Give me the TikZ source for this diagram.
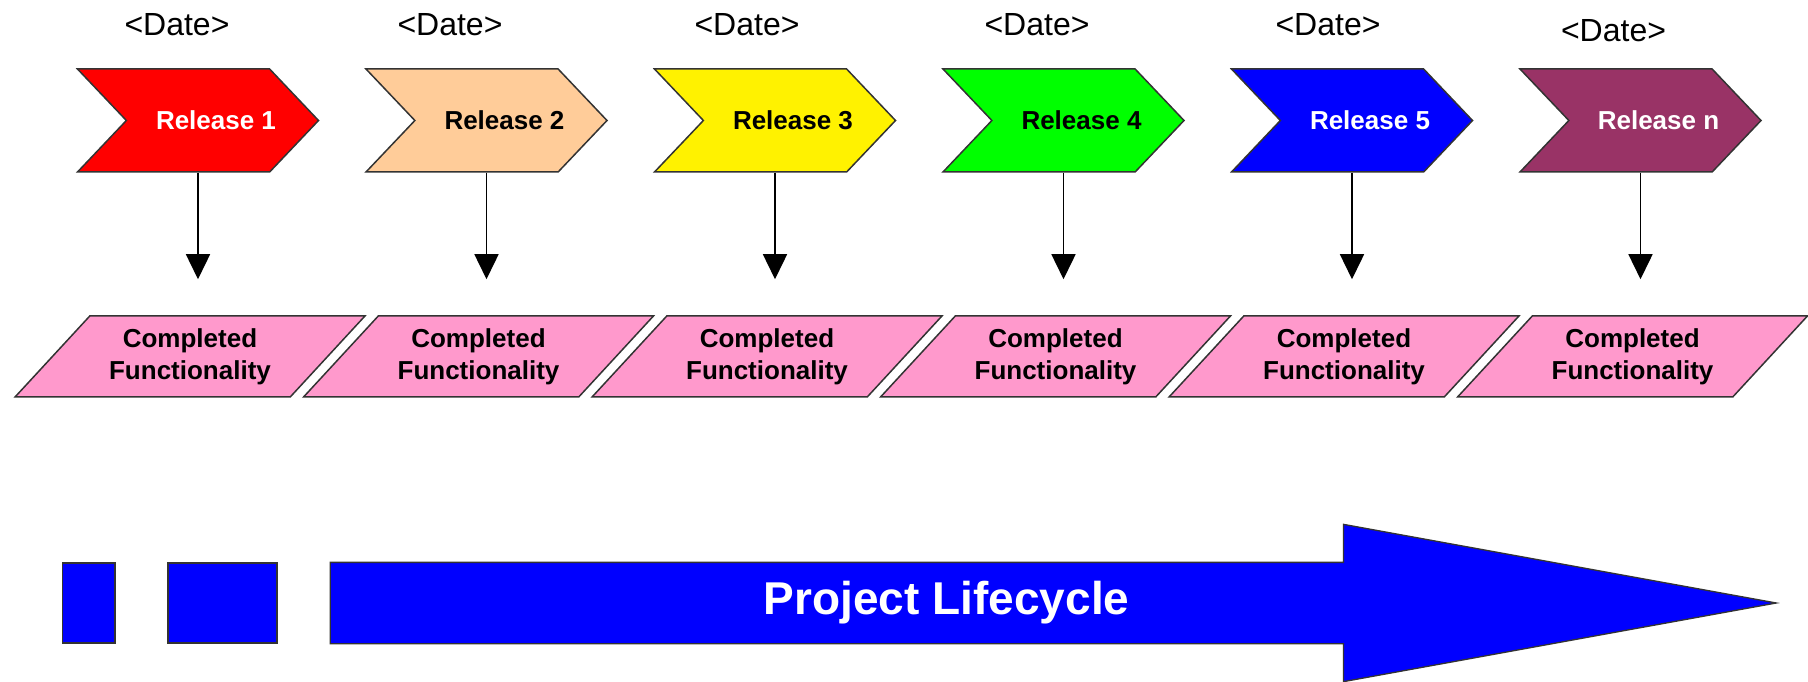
\documentclass[tikz,border=0pt]{standalone}
\usepackage{fontspec}
\setmainfont{Liberation Sans}
\usetikzlibrary{positioning, arrows.meta, shapes.geometric, shapes.symbols, shapes.arrows}

\definecolor{edge}{HTML}{333333}
\definecolor{peach}{HTML}{FFCC99}
\definecolor{plum}{HTML}{993366}
\definecolor{pinkfill}{HTML}{FF99CC}

\tikzset{
    release/.style={draw=edge,
        line width=1.5pt,
        signal,
        signal from=west,
        signal to=east,
        signal pointer angle=93,
        minimum width=241pt,
        minimum height=103pt,
        inner sep=0pt,
        font=\fontsize{26}{32}\selectfont\bfseries},
    done/.style={draw=edge,
        line width=1.5pt,
        fill=pinkfill,
        trapezium,
        trapezium left angle=43,
        trapezium right angle=137,
        trapezium stretches=true,
        minimum width=350pt,
        minimum height=81pt,
        inner sep=0pt,
        align=center,
        font=\fontsize{26}{32}\selectfont\bfseries},
    date/.style={font=\fontsize{32}{36}\selectfont},
    block/.style={draw=edge,
        line width=1.3pt,
        fill=blue,
        minimum height=80pt,
        inner sep=0pt}
}

\begin{document}
\begin{tikzpicture}[x=1pt, y=1pt, on grid,
    >={Triangle[width=24pt, length=25pt]}, line width=1.5pt]
    \useasboundingbox (0,0) rectangle (1808,681);

    % releases
    \node [release, fill=red, text=white] (rel1) at (198,560.5) {\hspace*{18pt}Release 1\hspace*{-18pt}};
    \node [release, fill=peach, right=288.5pt of rel1] (rel2) {\hspace*{18pt}Release 2\hspace*{-18pt}};
    \node [release, fill=yellow, right=288.5pt of rel2] (rel3) {\hspace*{18pt}Release 3\hspace*{-18pt}};
    \node [release, fill=green, right=288.5pt of rel3] (rel4) {\hspace*{18pt}Release 4\hspace*{-18pt}};
    \node [release, fill=blue, text=white, right=288.5pt of rel4] (rel5) {\hspace*{18pt}Release 5\hspace*{-18pt}};
    \node [release, fill=plum, text=white, right=288.5pt of rel5] (reln) {\hspace*{18pt}Release n\hspace*{-18pt}};

    % dates
    \node [date, above=95.5pt of rel1, xshift=-21pt] (date1) {<Date>};
    \node [date, above=95.5pt of rel2, xshift=-36.5pt] (date2) {<Date>};
    \node [date, above=95.5pt of rel3, xshift=-28pt] (date3) {<Date>};
    \node [date, above=95.5pt of rel4, xshift=-26.5pt] (date4) {<Date>};
    \node [date, above=95.5pt of rel5, xshift=-24pt] (date5) {<Date>};
    \node [date, above=89.5pt of reln, xshift=-27pt] (daten) {<Date>};

    % completed functionality
    \node [done, below=236pt of rel1, xshift=-8pt] (cf1) {Completed\\Functionality};
    \node [done, right=288.5pt of cf1] (cf2) {Completed\\Functionality};
    \node [done, right=288.5pt of cf2] (cf3) {Completed\\Functionality};
    \node [done, right=288.5pt of cf3] (cf4) {Completed\\Functionality};
    \node [done, right=288.5pt of cf4] (cf5) {Completed\\Functionality};
    \node [done, right=288.5pt of cf5] (cfn) {Completed\\Functionality};

    \draw [->, shorten >=36pt] (rel1.south) -- (rel1.south |- cf1.north);
    \draw [->, shorten >=36pt] (rel2.south) -- (rel2.south |- cf2.north);
    \draw [->, shorten >=36pt] (rel3.south) -- (rel3.south |- cf3.north);
    \draw [->, shorten >=36pt] (rel4.south) -- (rel4.south |- cf4.north);
    \draw [->, shorten >=36pt] (rel5.south) -- (rel5.south |- cf5.north);
    \draw [->, shorten >=36pt] (reln.south) -- (reln.south |- cfn.north);

    % lifecycle
    \node [block, minimum width=52.5pt] (bit1) at (88.75,78) {};
    \node [block, minimum width=109pt, right=133.75pt of bit1] (bit2) {};
    \node [draw=edge,
    line width=1.3pt,
    fill=blue,
    single arrow,
    single arrow tip angle=20.6,
    single arrow head extend=38pt,
    minimum height=1446pt,
    minimum width=156pt,
    inner xsep=0pt,
    inner ysep=40pt,
    right=52pt of bit2.east,
    anchor=tail
    ] (life) {};
    \node [text=white,
    font=\fontsize{46}{50}\selectfont\bfseries,
    right=617pt of life.tail,
    anchor=center
    ] (lifetext) {Project Lifecycle};
\end{tikzpicture}
\end{document}
